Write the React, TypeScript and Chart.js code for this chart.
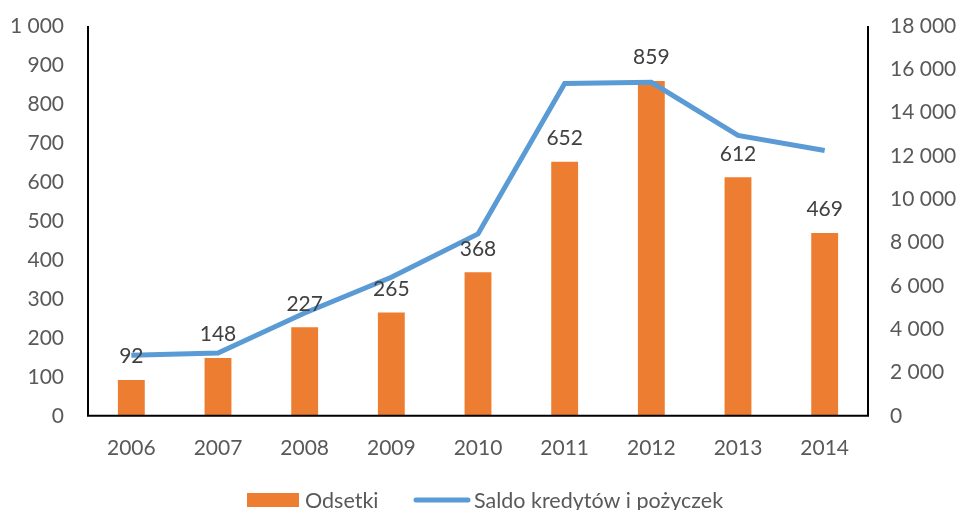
import React, { useEffect, useRef } from "react";
import { Chart, registerables } from "chart.js";

Chart.register(...registerables);

const categories = ["2006", "2007", "2008", "2009", "2010", "2011", "2012", "2013", "2014"];
const odsetki = [92, 148, 227, 265, 368, 652, 859, 612, 469];
const saldo = [2800, 2900, 4750, 6400, 8400, 15350, 15400, 12950, 12250];
const seriesLabels = ["Odsetki", "Saldo kredytów i pożyczek"];

const FONT = "Lato, 'Open Sans', sans-serif";
const fmt = (v: number) => String(v).replace(/\B(?=(\d{3})+(?!\d))/g, " ");

const labelPlugin = {
  id: "barLabels",
  afterDatasetsDraw(chart: any) {
    const ctx = chart.ctx;
    const meta = chart.getDatasetMeta(1);
    ctx.save();
    ctx.font = `21px ${FONT}`;
    ctx.fillStyle = "#404040";
    ctx.textAlign = "center";
    ctx.textBaseline = "bottom";
    meta.data.forEach((el: any, i: number) => {
      ctx.fillText(String(odsetki[i]), el.x, el.y - 13);
    });
    ctx.restore();
  },
};

const axesPlugin = {
  id: "axisLines",
  afterDatasetsDraw(chart: any) {
    const { ctx, chartArea } = chart;
    ctx.save();
    ctx.strokeStyle = "#000";
    ctx.lineWidth = 2;
    ctx.beginPath();
    ctx.moveTo(chartArea.left, chartArea.top);
    ctx.lineTo(chartArea.left, chartArea.bottom);
    ctx.lineTo(chartArea.right, chartArea.bottom);
    ctx.lineTo(chartArea.right, chartArea.top);
    ctx.stroke();
    ctx.restore();
  },
};

const legendPlugin = {
  id: "customLegend",
  afterDraw(chart: any) {
    const ctx = chart.ctx;
    const y = 500;
    ctx.save();
    ctx.font = `21.5px ${FONT}`;
    ctx.textBaseline = "middle";
    ctx.fillStyle = "#ED7D31";
    ctx.fillRect(247, y - 7, 52, 14);
    ctx.fillStyle = "#595959";
    ctx.textAlign = "left";
    ctx.fillText(seriesLabels[0], 305, y + 1);
    ctx.strokeStyle = "#5B9BD5";
    ctx.lineWidth = 5;
    ctx.lineCap = "round";
    ctx.beginPath();
    ctx.moveTo(416, y);
    ctx.lineTo(468, y);
    ctx.stroke();
    ctx.fillText(seriesLabels[1], 474, y + 1);
    ctx.restore();
  },
};

const fitY = (w: number) => (s: any) => {
  s.width = w;
  s.paddingTop = 0;
  s.paddingBottom = 0;
};

export default function App() {
  const ref = useRef<HTMLCanvasElement | null>(null);
  useEffect(() => {
    if (!ref.current) return;
    const chart = new Chart(ref.current, {
      type: "bar",
      data: {
        labels: categories,
        datasets: [
          {
            type: "line",
            label: seriesLabels[1],
            data: saldo,
            yAxisID: "y1",
            borderColor: "#5B9BD5",
            backgroundColor: "#5B9BD5",
            borderWidth: 5,
            pointRadius: 0,
            tension: 0,
            order: 0,
          } as any,
          {
            type: "bar",
            label: seriesLabels[0],
            data: odsetki,
            yAxisID: "y",
            backgroundColor: "#ED7D31",
            barPercentage: 0.31,
            categoryPercentage: 1,
            order: 1,
          },
        ],
      },
      options: {
        responsive: false,
        animation: false,
        layout: { padding: { top: 26, bottom: 29, left: 0, right: 0 } },
        plugins: { legend: { display: false }, tooltip: { enabled: false } },
        scales: {
          x: {
            grid: { display: false, drawTicks: false },
            border: { display: false },
            ticks: { color: "#595959", font: { family: FONT, size: 21 }, padding: 20 },
          },
          y: {
            position: "left",
            min: 0,
            max: 1000,
            grid: { display: false, drawTicks: false },
            border: { display: false },
            ticks: {
              stepSize: 100,
              color: "#595959",
              font: { family: FONT, size: 21 },
              padding: 24,
              callback: (v: any) => fmt(Number(v)),
            },
            afterFit: fitY(88),
          },
          y1: {
            position: "right",
            min: 0,
            max: 18000,
            grid: { display: false, drawTicks: false },
            border: { display: false },
            ticks: {
              stepSize: 2000,
              color: "#595959",
              font: { family: FONT, size: 21 },
              padding: 22,
              callback: (v: any) => fmt(Number(v)),
            },
            afterFit: fitY(89),
          },
        },
      },
      plugins: [axesPlugin, labelPlugin, legendPlugin],
    });
    return () => chart.destroy();
  }, []);
  return (
    <div style={{ position: "absolute", left: 0, top: 0, width: 957, height: 510, background: "#fff" }}>
      <canvas ref={ref} width={957} height={510} style={{ width: 957, height: 510 }} />
    </div>
  );
}
